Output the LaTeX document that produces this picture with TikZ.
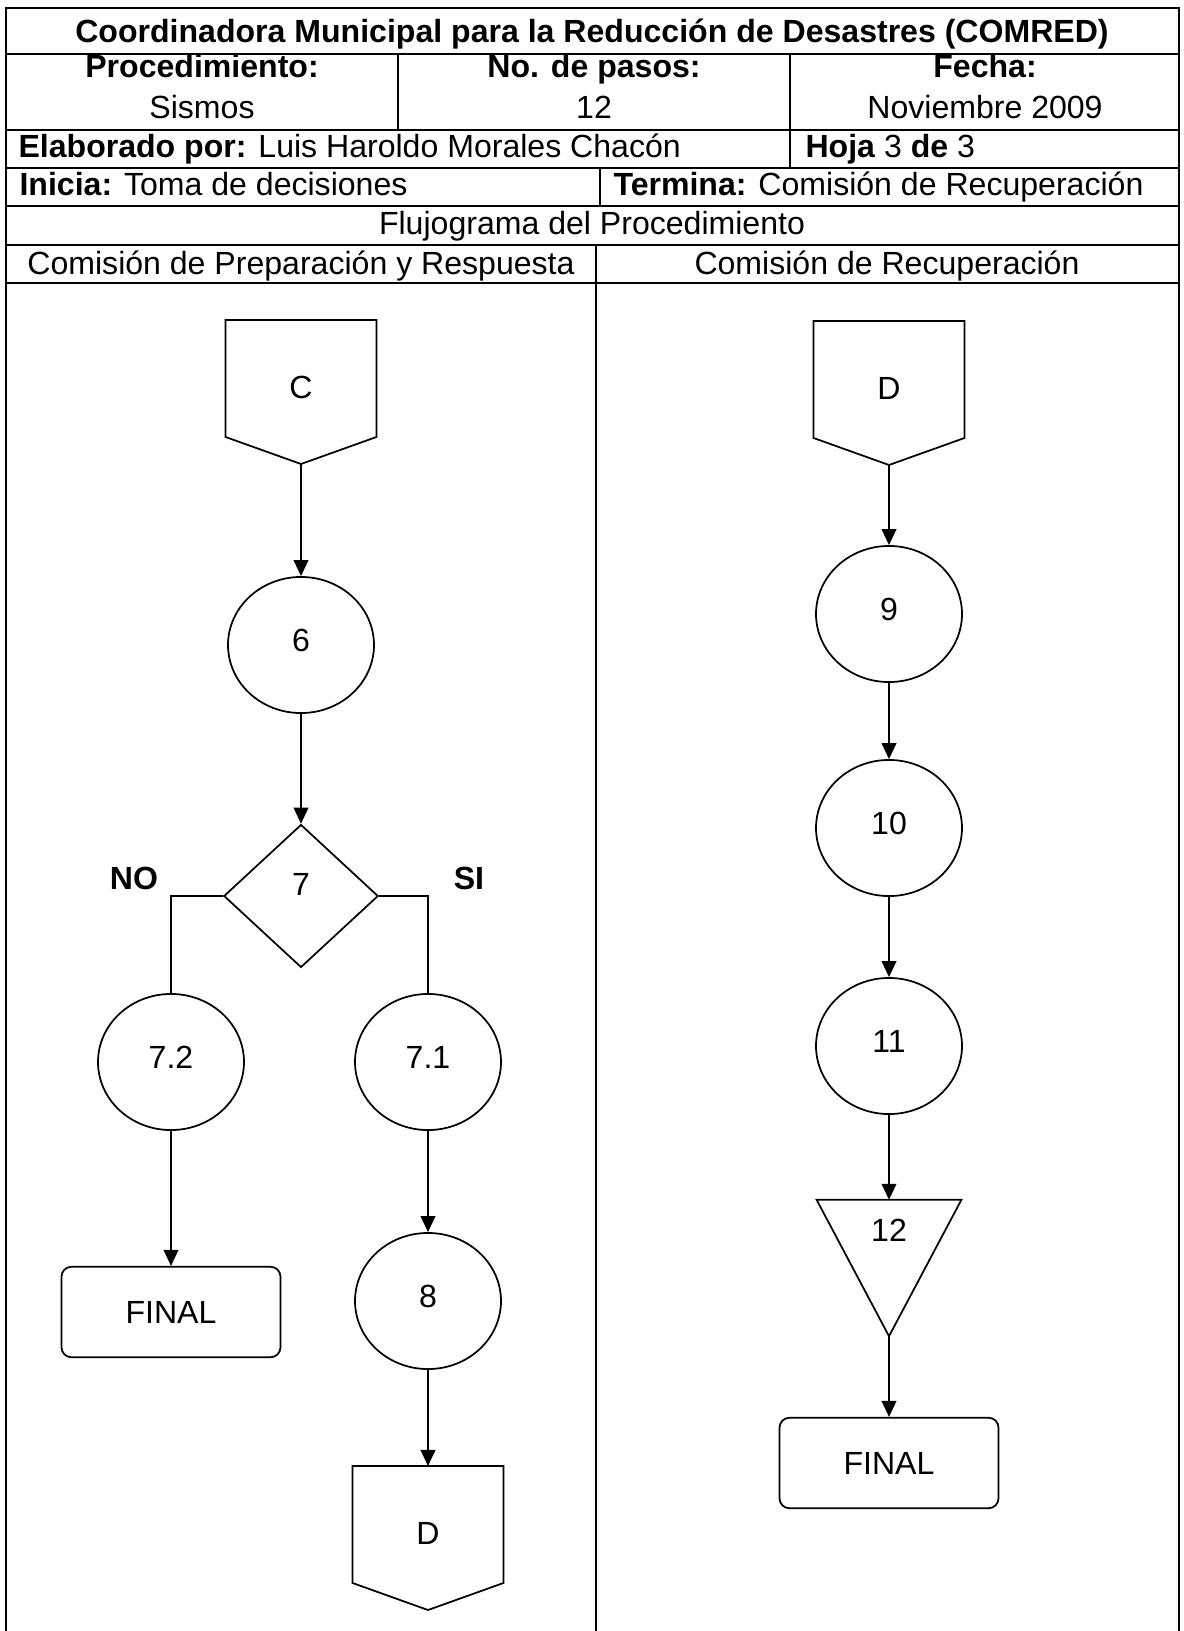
\documentclass[tikz,border=0pt]{standalone}
\usepackage{fontspec}
\setmainfont{Liberation Sans}
\usetikzlibrary{arrows.meta, calc, positioning, shapes.geometric}

\tikzset{
  linea/.style={line width=0.65pt},
  paso/.style={draw, ellipse, linea, minimum width=1.92cm, minimum height=1.79cm, inner sep=0pt, text depth=0.13cm},
  decision/.style={draw, diamond, linea, minimum width=2.03cm, minimum height=1.88cm, inner sep=0pt, text depth=0.3cm},
  fin/.style={draw, linea, rounded corners=0.13cm, minimum width=2.88cm, minimum height=1.19cm},
  conector/.style={minimum width=1.97cm, minimum height=1.88cm, inner sep=0pt, text depth=0.13cm},
  flecha/.style={linea, -{Triangle[length=6pt, width=5.5pt]}},
  celda/.style={inner sep=0pt, anchor=base}
}

\begin{document}
\begin{tikzpicture}[x=0.01315cm, y=-0.01315cm, font=\fontsize{12}{14}\selectfont]
    \useasboundingbox (0,0) rectangle (1183,1631);

    % Tabla
    \draw[linea] (6,1631) -- (6,8) -- (1179,8) -- (1179,1631);
    \foreach \y in {54, 130, 168, 206, 245, 283} {
        \draw[linea] (6,\y) -- (1179,\y);
    }
    \draw[linea] (398,54) -- (398,130);
    \draw[linea] (790,54) -- (790,168);
    \draw[linea] (600,168) -- (600,206);
    \draw[linea] (596,245) -- (596,1631);

    % Encabezado
    \node[celda] (titulo) at (592,43) {\textbf{Coordinadora Municipal para la Reducción de Desastres (COMRED)}};
    \node[celda] (proc) at (202,77) {\textbf{Procedimiento:}};
    \node[celda] (sismos) at (202,118) {Sismos};
    \node[celda] (pasos) at (594,77) {\textbf{No. de pasos:}};
    \node[celda] (npasos) at (594,118) {12};
    \node[celda] (fecha) at (985,77) {\textbf{Fecha:}};
    \node[celda] (mes) at (985,118) {Noviembre 2009};
    \node[celda, anchor=base west] (elab) at (18,157) {\textbf{Elaborado por:} Luis Haroldo Morales Chacón};
    \node[celda, anchor=base west] (hoja) at (805,157) {\textbf{Hoja} 3 \textbf{de} 3};
    \node[celda, anchor=base west] (inicia) at (19,195) {\textbf{Inicia:} Toma de decisiones};
    \node[celda, anchor=base west] (termina) at (613,195) {\textbf{Termina:} Comisión de Recuperación};
    \node[celda] (flujo) at (592,234) {Flujograma del Procedimiento};
    \node[celda] (col1) at (301,274) {Comisión de Preparación y Respuesta};
    \node[celda] (col2) at (887,274) {Comisión de Recuperación};

    % Columna izquierda
    \node[conector] (C) at (301,392) {C};
    \node[paso] (n6) at (301,645) {6};
    \node[decision] (d7) at (301,896) {7};
    \node (no) at (134,878) {\textbf{NO}};
    \node (si) at (469,878) {\textbf{SI}};
    \node[paso] (n72) at (171,1062) {7.2};
    \node[paso] (n71) at (428,1062) {7.1};
    \node[fin] (finL) at (171,1312) {FINAL};
    \node[paso] (n8) at (428,1301) {8};
    \node[conector] (Db) at (428,1538) {D};

    % Columna derecha
    \node[conector] (Dt) at (889,393) {D};
    \node[paso] (n9) at (889,614) {9};
    \node[paso] (n10) at (889,828) {10};
    \node[paso] (n11) at (889,1046) {11};
    \node[minimum width=1.89cm, minimum height=1.78cm, inner sep=0pt] (t12) at (889,1268) {};
    \node (l12) at (889,1230) {12};
    \node[fin] (finR) at (889,1463) {FINAL};

    % Conectores de pagina y triangulo
    \foreach \c in {C, Dt, Db} {
        \draw[linea] (\c.north west) -- (\c.north east) -- ($(\c.south east)+(0,-27)$)
            -- (\c.south) -- ($(\c.south west)+(0,-27)$) -- cycle;
    }
    \draw[linea] (t12.north west) -- (t12.north east) -- (t12.south) -- cycle;

    % Flechas
    \foreach \a/\b in {C/n6, n6/d7, n72/finL, n71/n8, n8/Db, Dt/n9, n9/n10, n10/n11, n11/t12, t12/finR} {
        \draw[flecha] (\a.south) -- (\b.north);
    }
    \draw[linea] (d7.west) -| (n72.north);
    \draw[linea] (d7.east) -| (n71.north);

\end{tikzpicture}
\end{document}
